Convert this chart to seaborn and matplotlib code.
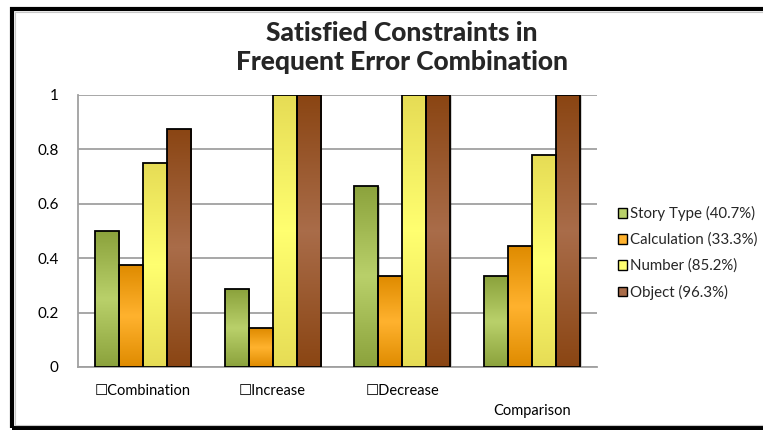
import numpy as np
import pandas as pd
import matplotlib
matplotlib.use("Agg")
import matplotlib.pyplot as plt
from matplotlib.patches import Patch, Rectangle
from matplotlib.colors import LinearSegmentedColormap
import seaborn as sns

categories = ["\u2610Combination", "\u2610Increase", "\u2610Decrease", "\nComparison"]
series = ["Story Type (40.7%)", "Calculation (33.3%)", "Number (85.2%)", "Object (96.3%)"]
story_type = [0.5, 0.286, 0.667, 0.333]
calculation = [0.375, 0.143, 0.333, 0.444]
number = [0.75, 1.0, 1.0, 0.778]
obj = [0.875, 1.0, 1.0, 1.0]
y_ticks = [0, 0.2, 0.4, 0.6, 0.8, 1]
y_tick_labels = ["0", "0.2", "0.4", "0.6", "0.8", "1"]

# (edge shade, centre highlight) for each series' vertical gradient
shades = [("#8ba23c", "#b9d06a"),
          ("#df8b00", "#ffb22e"),
          ("#e6dc55", "#ffff70"),
          ("#8a4513", "#a96c49")]

df = pd.DataFrame({
    "category": np.repeat(categories, 4),
    "series": series * len(categories),
    "value": np.ravel(np.column_stack([story_type, calculation, number, obj])),
})

sns.set_theme(style="white")
plt.rcParams["font.family"] = ["Lato", "DejaVu Sans"]

fig = plt.figure(figsize=(7.63, 4.30), dpi=100)
ax = fig.add_axes([78 / 763, 1 - 367 / 430, (597 - 78) / 763, (367 - 95) / 430])

sns.barplot(data=df, x="category", y="value", hue="series", order=categories,
            hue_order=series, palette=[s[1] for s in shades], width=0.74,
            edgecolor="black", linewidth=1.3, legend=False, ax=ax, zorder=3)

# Replace flat fills with a dark-light-dark vertical gradient per bar
grad = np.abs(np.linspace(-1, 1, 256))[:, None]
for cont, (dark, light) in zip(ax.containers, shades):
    cmap = LinearSegmentedColormap.from_list("g", [light, dark])
    for bar in cont.patches:
        x0, y0 = bar.get_x(), bar.get_y()
        w, h = bar.get_width(), bar.get_height()
        # soft drop shadow
        ax.add_patch(Rectangle((x0 + 0.012, y0), w, h - 0.004, facecolor="#000000",
                               alpha=0.18, edgecolor="none", zorder=2))
        im = ax.imshow(grad, cmap=cmap, aspect="auto", extent=(x0, x0 + w, y0, y0 + h),
                       origin="lower", zorder=3.5, interpolation="bilinear")
        im.set_clip_path(bar)
        bar.set_facecolor("none")
        bar.set_zorder(4)

ax.set_xlim(-0.5, len(categories) - 0.5)
ax.set_ylim(0, 1)
ax.set_yticks(y_ticks)
ax.set_yticklabels(y_tick_labels)
ax.set_xlabel("")
ax.set_ylabel("")
ax.yaxis.grid(True, color="#a0a0a0", linewidth=1.3, zorder=0)
ax.set_axisbelow(True)
for side in ["top", "right"]:
    ax.spines[side].set_visible(False)
for side in ["left", "bottom"]:
    ax.spines[side].set_color("#a0a0a0")
    ax.spines[side].set_linewidth(1.3)
ax.tick_params(axis="y", length=0, pad=14, labelsize=11, colors="black")
ax.tick_params(axis="x", length=0, pad=12, labelsize=10.5, colors="black")
for lbl in ax.get_xticklabels():
    lbl.set_verticalalignment("top")
    lbl.set_linespacing(1.55)

fig.text(0.527, 1 - 33 / 430, "Satisfied Constraints in", ha="center", va="center",
         fontsize=19, fontweight="black")
fig.text(0.527, 1 - 62 / 430, "Frequent Error Combination", ha="center", va="center",
         fontsize=19, fontweight="black")

handles = [Patch(facecolor=s[1], edgecolor="black", linewidth=1.0) for s in shades]
fig.legend(handles, series, loc="center left", bbox_to_anchor=(612 / 763, 1 - 253 / 430),
           frameon=False, fontsize=10.8, handlelength=0.6, handleheight=0.6,
           handletextpad=0.2, labelspacing=0.78, borderaxespad=0)

# surrounding frame
fig.add_artist(Rectangle((12 / 763, 2 / 430), 1.2, (428 - 9) / 430, transform=fig.transFigure,
                         facecolor="none", edgecolor="black", linewidth=3.0, clip_on=False))
fig.add_artist(Rectangle((15 / 763, 5 / 430), 1.2, (428 - 15) / 430, transform=fig.transFigure,
                         facecolor="none", edgecolor="#c8c8c8", linewidth=0.8, clip_on=False))

fig.savefig("out.png", dpi=100, facecolor="white")
